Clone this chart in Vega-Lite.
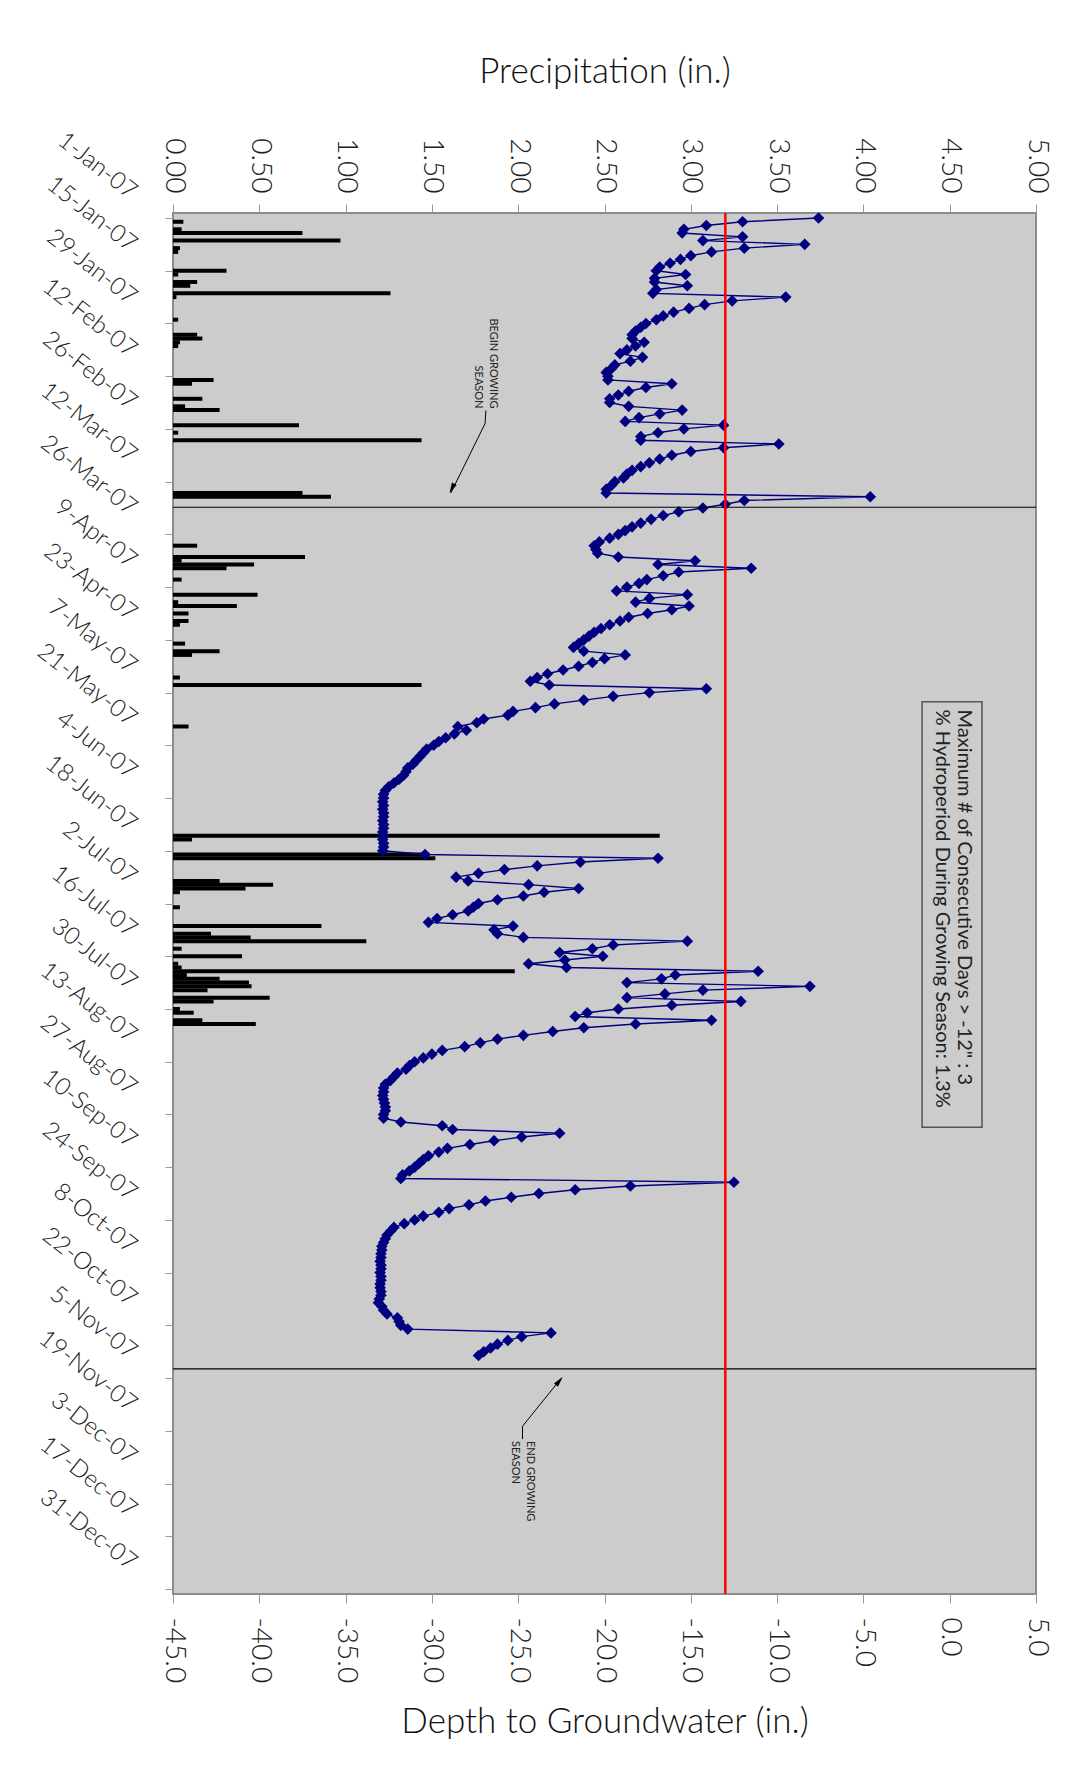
{
  "$schema": "https://vega.github.io/schema/vega-lite/v6.json",
  "autosize": {"type": "none"},
  "padding": {"left": 173, "top": 213, "right": 52, "bottom": 183},
  "width": 863,
  "height": 1381,
  "background": "#FFFFFF",
  "config": {
    "locale": {"number": {"decimal": ".", "thousands": ",", "grouping": [3], "currency": ["$", ""], "minus": "-"}},
    "view": {"fill": "#CCCCCC", "stroke": "#8C8C8C", "strokeWidth": 2},
    "axis": {"domain": false, "grid": false, "tickColor": "#9A9A9A", "labelFont": "Lato", "labelFontWeight": 300, "labelColor": "#222222", "titleFont": "Lato", "titleFontWeight": 300, "titleColor": "#111111", "labelFlush": false, "labelOverlap": false, "labelBound": false}
  },
  "datasets": {
    "precipitation": [
      {"date": "2007-01-02", "precip": 0.06}, {"date": "2007-01-04", "precip": 0.05}, {"date": "2007-01-05", "precip": 0.75}, {"date": "2007-01-07", "precip": 0.97},
      {"date": "2007-01-09", "precip": 0.04}, {"date": "2007-01-10", "precip": 0.03}, {"date": "2007-01-15", "precip": 0.31}, {"date": "2007-01-16", "precip": 0.03},
      {"date": "2007-01-18", "precip": 0.14}, {"date": "2007-01-19", "precip": 0.10}, {"date": "2007-01-21", "precip": 1.26}, {"date": "2007-01-22", "precip": 0.02},
      {"date": "2007-01-28", "precip": 0.03}, {"date": "2007-02-01", "precip": 0.14}, {"date": "2007-02-02", "precip": 0.17}, {"date": "2007-02-03", "precip": 0.04},
      {"date": "2007-02-04", "precip": 0.03}, {"date": "2007-02-13", "precip": 0.235}, {"date": "2007-02-14", "precip": 0.11}, {"date": "2007-02-18", "precip": 0.17},
      {"date": "2007-02-20", "precip": 0.07}, {"date": "2007-02-21", "precip": 0.27}, {"date": "2007-02-25", "precip": 0.73}, {"date": "2007-02-27", "precip": 0.03},
      {"date": "2007-03-01", "precip": 1.44}, {"date": "2007-03-15", "precip": 0.75}, {"date": "2007-03-16", "precip": 0.915}, {"date": "2007-03-29", "precip": 0.14},
      {"date": "2007-04-01", "precip": 0.765}, {"date": "2007-04-02", "precip": 0.05}, {"date": "2007-04-03", "precip": 0.47}, {"date": "2007-04-04", "precip": 0.31},
      {"date": "2007-04-07", "precip": 0.05}, {"date": "2007-04-11", "precip": 0.49}, {"date": "2007-04-13", "precip": 0.03}, {"date": "2007-04-14", "precip": 0.37},
      {"date": "2007-04-16", "precip": 0.09}, {"date": "2007-04-18", "precip": 0.09}, {"date": "2007-04-19", "precip": 0.04}, {"date": "2007-04-24", "precip": 0.07},
      {"date": "2007-04-26", "precip": 0.27}, {"date": "2007-04-27", "precip": 0.11}, {"date": "2007-05-03", "precip": 0.04}, {"date": "2007-05-05", "precip": 1.44},
      {"date": "2007-05-16", "precip": 0.09}, {"date": "2007-06-14", "precip": 2.82}, {"date": "2007-06-15", "precip": 0.11}, {"date": "2007-06-19", "precip": 1.45},
      {"date": "2007-06-20", "precip": 1.52}, {"date": "2007-06-26", "precip": 0.27}, {"date": "2007-06-27", "precip": 0.58}, {"date": "2007-06-28", "precip": 0.42},
      {"date": "2007-06-29", "precip": 0.04}, {"date": "2007-07-03", "precip": 0.04}, {"date": "2007-07-08", "precip": 0.86}, {"date": "2007-07-10", "precip": 0.22},
      {"date": "2007-07-11", "precip": 0.45}, {"date": "2007-07-12", "precip": 1.12}, {"date": "2007-07-14", "precip": 0.05}, {"date": "2007-07-16", "precip": 0.40},
      {"date": "2007-07-18", "precip": 0.03}, {"date": "2007-07-19", "precip": 0.05}, {"date": "2007-07-20", "precip": 1.98}, {"date": "2007-07-21", "precip": 0.08},
      {"date": "2007-07-22", "precip": 0.27}, {"date": "2007-07-23", "precip": 0.44}, {"date": "2007-07-24", "precip": 0.455}, {"date": "2007-07-25", "precip": 0.20},
      {"date": "2007-07-27", "precip": 0.56}, {"date": "2007-07-28", "precip": 0.235}, {"date": "2007-07-30", "precip": 0.04}, {"date": "2007-07-31", "precip": 0.12},
      {"date": "2007-08-02", "precip": 0.17}, {"date": "2007-08-03", "precip": 0.48}
    ],
    "groundwater": [
      {"date": "2007-01-01", "depth": -7.6}, {"date": "2007-01-02", "depth": -12.0}, {"date": "2007-01-03", "depth": -14.1}, {"date": "2007-01-04", "depth": -15.4},
      {"date": "2007-01-05", "depth": -15.5}, {"date": "2007-01-06", "depth": -12.0}, {"date": "2007-01-07", "depth": -14.3}, {"date": "2007-01-08", "depth": -8.4},
      {"date": "2007-01-09", "depth": -11.9}, {"date": "2007-01-10", "depth": -13.8}, {"date": "2007-01-11", "depth": -15.0}, {"date": "2007-01-12", "depth": -15.6},
      {"date": "2007-01-13", "depth": -16.2}, {"date": "2007-01-14", "depth": -16.8}, {"date": "2007-01-15", "depth": -17.0}, {"date": "2007-01-16", "depth": -15.3},
      {"date": "2007-01-17", "depth": -17.1}, {"date": "2007-01-18", "depth": -17.1}, {"date": "2007-01-19", "depth": -15.2}, {"date": "2007-01-20", "depth": -17.0},
      {"date": "2007-01-21", "depth": -17.2}, {"date": "2007-01-22", "depth": -9.5}, {"date": "2007-01-23", "depth": -12.6}, {"date": "2007-01-24", "depth": -14.2},
      {"date": "2007-01-25", "depth": -15.1}, {"date": "2007-01-26", "depth": -16.0}, {"date": "2007-01-27", "depth": -16.6}, {"date": "2007-01-28", "depth": -17.0},
      {"date": "2007-01-29", "depth": -17.6}, {"date": "2007-01-30", "depth": -17.9}, {"date": "2007-01-31", "depth": -18.2},
      {"date": "2007-02-01", "depth": -18.4}, {"date": "2007-02-02", "depth": -18.4}, {"date": "2007-02-03", "depth": -17.7}, {"date": "2007-02-04", "depth": -18.2},
      {"date": "2007-02-05", "depth": -18.7}, {"date": "2007-02-06", "depth": -19.1}, {"date": "2007-02-07", "depth": -17.8}, {"date": "2007-02-08", "depth": -18.5},
      {"date": "2007-02-09", "depth": -19.4}, {"date": "2007-02-10", "depth": -19.6}, {"date": "2007-02-11", "depth": -19.9}, {"date": "2007-02-12", "depth": -19.8},
      {"date": "2007-02-13", "depth": -19.8}, {"date": "2007-02-14", "depth": -16.1}, {"date": "2007-02-15", "depth": -17.6}, {"date": "2007-02-16", "depth": -18.6},
      {"date": "2007-02-17", "depth": -19.2}, {"date": "2007-02-18", "depth": -19.7}, {"date": "2007-02-19", "depth": -19.7}, {"date": "2007-02-20", "depth": -18.6},
      {"date": "2007-02-21", "depth": -15.5}, {"date": "2007-02-22", "depth": -16.8}, {"date": "2007-02-23", "depth": -18.0}, {"date": "2007-02-24", "depth": -18.8},
      {"date": "2007-02-25", "depth": -13.1}, {"date": "2007-02-26", "depth": -15.4}, {"date": "2007-02-27", "depth": -16.9}, {"date": "2007-02-28", "depth": -17.9},
      {"date": "2007-03-01", "depth": -17.9}, {"date": "2007-03-02", "depth": -9.9}, {"date": "2007-03-03", "depth": -13.1}, {"date": "2007-03-04", "depth": -15.0},
      {"date": "2007-03-05", "depth": -16.1}, {"date": "2007-03-06", "depth": -16.8}, {"date": "2007-03-07", "depth": -17.4}, {"date": "2007-03-08", "depth": -17.9},
      {"date": "2007-03-09", "depth": -18.4}, {"date": "2007-03-10", "depth": -18.7}, {"date": "2007-03-11", "depth": -18.9}, {"date": "2007-03-12", "depth": -19.4},
      {"date": "2007-03-13", "depth": -19.6}, {"date": "2007-03-14", "depth": -19.9}, {"date": "2007-03-15", "depth": -19.9}, {"date": "2007-03-16", "depth": -4.6},
      {"date": "2007-03-17", "depth": -11.9}, {"date": "2007-03-18", "depth": -13.0}, {"date": "2007-03-19", "depth": -14.3}, {"date": "2007-03-20", "depth": -15.7},
      {"date": "2007-03-21", "depth": -16.6}, {"date": "2007-03-22", "depth": -17.3}, {"date": "2007-03-23", "depth": -17.9}, {"date": "2007-03-24", "depth": -18.4},
      {"date": "2007-03-25", "depth": -18.8}, {"date": "2007-03-26", "depth": -19.2}, {"date": "2007-03-27", "depth": -19.7}, {"date": "2007-03-28", "depth": -20.3},
      {"date": "2007-03-29", "depth": -20.6}, {"date": "2007-03-30", "depth": -20.5}, {"date": "2007-03-31", "depth": -20.4},
      {"date": "2007-04-01", "depth": -19.2}, {"date": "2007-04-02", "depth": -14.75}, {"date": "2007-04-03", "depth": -16.9}, {"date": "2007-04-04", "depth": -11.5},
      {"date": "2007-04-05", "depth": -15.7}, {"date": "2007-04-06", "depth": -16.6}, {"date": "2007-04-07", "depth": -17.55}, {"date": "2007-04-08", "depth": -18.0},
      {"date": "2007-04-09", "depth": -18.7}, {"date": "2007-04-10", "depth": -19.3}, {"date": "2007-04-11", "depth": -15.2}, {"date": "2007-04-12", "depth": -17.4},
      {"date": "2007-04-13", "depth": -18.2}, {"date": "2007-04-14", "depth": -15.1}, {"date": "2007-04-15", "depth": -16.1}, {"date": "2007-04-16", "depth": -17.5},
      {"date": "2007-04-17", "depth": -18.6}, {"date": "2007-04-18", "depth": -19.1}, {"date": "2007-04-19", "depth": -19.7}, {"date": "2007-04-20", "depth": -20.2},
      {"date": "2007-04-21", "depth": -20.6}, {"date": "2007-04-22", "depth": -20.9}, {"date": "2007-04-23", "depth": -21.2}, {"date": "2007-04-24", "depth": -21.5},
      {"date": "2007-04-25", "depth": -21.8}, {"date": "2007-04-26", "depth": -21.2}, {"date": "2007-04-27", "depth": -18.8}, {"date": "2007-04-28", "depth": -20.0},
      {"date": "2007-04-29", "depth": -20.7}, {"date": "2007-04-30", "depth": -21.5},
      {"date": "2007-05-01", "depth": -22.4}, {"date": "2007-05-02", "depth": -23.3}, {"date": "2007-05-03", "depth": -23.9}, {"date": "2007-05-04", "depth": -24.3},
      {"date": "2007-05-05", "depth": -23.2}, {"date": "2007-05-06", "depth": -14.1}, {"date": "2007-05-07", "depth": -17.4}, {"date": "2007-05-08", "depth": -19.5},
      {"date": "2007-05-09", "depth": -21.2}, {"date": "2007-05-10", "depth": -22.9}, {"date": "2007-05-11", "depth": -24.0}, {"date": "2007-05-12", "depth": -25.3},
      {"date": "2007-05-13", "depth": -25.6}, {"date": "2007-05-14", "depth": -27.0}, {"date": "2007-05-15", "depth": -27.4}, {"date": "2007-05-16", "depth": -28.5},
      {"date": "2007-05-17", "depth": -28.0}, {"date": "2007-05-18", "depth": -28.7}, {"date": "2007-05-19", "depth": -29.2}, {"date": "2007-05-20", "depth": -29.6},
      {"date": "2007-05-21", "depth": -29.9}, {"date": "2007-05-22", "depth": -30.3}, {"date": "2007-05-23", "depth": -30.5}, {"date": "2007-05-24", "depth": -30.7},
      {"date": "2007-05-25", "depth": -30.9}, {"date": "2007-05-26", "depth": -31.1}, {"date": "2007-05-27", "depth": -31.4}, {"date": "2007-05-28", "depth": -31.5},
      {"date": "2007-05-29", "depth": -31.65}, {"date": "2007-05-30", "depth": -31.9}, {"date": "2007-05-31", "depth": -32.2},
      {"date": "2007-06-01", "depth": -32.5}, {"date": "2007-06-02", "depth": -32.7}, {"date": "2007-06-03", "depth": -32.8}, {"date": "2007-06-04", "depth": -32.8},
      {"date": "2007-06-05", "depth": -32.85}, {"date": "2007-06-06", "depth": -32.8}, {"date": "2007-06-07", "depth": -32.85}, {"date": "2007-06-08", "depth": -32.8},
      {"date": "2007-06-09", "depth": -32.8}, {"date": "2007-06-10", "depth": -32.85}, {"date": "2007-06-11", "depth": -32.8}, {"date": "2007-06-12", "depth": -32.8},
      {"date": "2007-06-13", "depth": -32.85}, {"date": "2007-06-14", "depth": -32.8}, {"date": "2007-06-15", "depth": -32.85}, {"date": "2007-06-16", "depth": -32.8},
      {"date": "2007-06-17", "depth": -32.8}, {"date": "2007-06-18", "depth": -32.85}, {"date": "2007-06-19", "depth": -30.4}, {"date": "2007-06-20", "depth": -16.9},
      {"date": "2007-06-21", "depth": -21.4}, {"date": "2007-06-22", "depth": -23.9}, {"date": "2007-06-23", "depth": -25.8}, {"date": "2007-06-24", "depth": -27.3},
      {"date": "2007-06-25", "depth": -28.6}, {"date": "2007-06-26", "depth": -27.9}, {"date": "2007-06-27", "depth": -24.4}, {"date": "2007-06-28", "depth": -21.5},
      {"date": "2007-06-29", "depth": -23.5}, {"date": "2007-06-30", "depth": -24.7},
      {"date": "2007-07-01", "depth": -26.2}, {"date": "2007-07-02", "depth": -27.3}, {"date": "2007-07-03", "depth": -27.6}, {"date": "2007-07-04", "depth": -27.9},
      {"date": "2007-07-05", "depth": -28.8}, {"date": "2007-07-06", "depth": -29.7}, {"date": "2007-07-07", "depth": -30.2}, {"date": "2007-07-08", "depth": -25.3},
      {"date": "2007-07-09", "depth": -26.4}, {"date": "2007-07-10", "depth": -26.2}, {"date": "2007-07-11", "depth": -24.7}, {"date": "2007-07-12", "depth": -15.2},
      {"date": "2007-07-13", "depth": -19.5}, {"date": "2007-07-14", "depth": -20.7}, {"date": "2007-07-15", "depth": -22.6}, {"date": "2007-07-16", "depth": -20.1},
      {"date": "2007-07-17", "depth": -22.3}, {"date": "2007-07-18", "depth": -24.4}, {"date": "2007-07-19", "depth": -22.2}, {"date": "2007-07-20", "depth": -11.1},
      {"date": "2007-07-21", "depth": -15.9}, {"date": "2007-07-22", "depth": -16.7}, {"date": "2007-07-23", "depth": -18.7}, {"date": "2007-07-24", "depth": -8.1},
      {"date": "2007-07-25", "depth": -14.3}, {"date": "2007-07-26", "depth": -16.5}, {"date": "2007-07-27", "depth": -18.7}, {"date": "2007-07-28", "depth": -12.1},
      {"date": "2007-07-29", "depth": -16.1}, {"date": "2007-07-30", "depth": -19.2}, {"date": "2007-07-31", "depth": -21.0},
      {"date": "2007-08-01", "depth": -21.7}, {"date": "2007-08-02", "depth": -13.8}, {"date": "2007-08-03", "depth": -18.2}, {"date": "2007-08-04", "depth": -21.2},
      {"date": "2007-08-05", "depth": -23.0}, {"date": "2007-08-06", "depth": -24.7}, {"date": "2007-08-07", "depth": -26.2}, {"date": "2007-08-08", "depth": -27.2},
      {"date": "2007-08-09", "depth": -28.1}, {"date": "2007-08-10", "depth": -29.4}, {"date": "2007-08-11", "depth": -30.0}, {"date": "2007-08-12", "depth": -30.5},
      {"date": "2007-08-13", "depth": -31.0}, {"date": "2007-08-14", "depth": -31.3}, {"date": "2007-08-15", "depth": -31.5}, {"date": "2007-08-16", "depth": -32.0},
      {"date": "2007-08-17", "depth": -32.2}, {"date": "2007-08-18", "depth": -32.4}, {"date": "2007-08-19", "depth": -32.7}, {"date": "2007-08-20", "depth": -32.8},
      {"date": "2007-08-21", "depth": -32.8}, {"date": "2007-08-22", "depth": -32.85}, {"date": "2007-08-23", "depth": -32.8}, {"date": "2007-08-24", "depth": -32.75},
      {"date": "2007-08-25", "depth": -32.7}, {"date": "2007-08-26", "depth": -32.7}, {"date": "2007-08-27", "depth": -32.8}, {"date": "2007-08-28", "depth": -32.8},
      {"date": "2007-08-29", "depth": -31.8}, {"date": "2007-08-30", "depth": -29.4}, {"date": "2007-08-31", "depth": -28.8},
      {"date": "2007-09-01", "depth": -22.6}, {"date": "2007-09-02", "depth": -24.8}, {"date": "2007-09-03", "depth": -26.4}, {"date": "2007-09-04", "depth": -27.8},
      {"date": "2007-09-05", "depth": -29.1}, {"date": "2007-09-06", "depth": -29.6}, {"date": "2007-09-07", "depth": -30.2}, {"date": "2007-09-08", "depth": -30.5},
      {"date": "2007-09-09", "depth": -30.75}, {"date": "2007-09-10", "depth": -31.0}, {"date": "2007-09-11", "depth": -31.3}, {"date": "2007-09-12", "depth": -31.7},
      {"date": "2007-09-13", "depth": -31.8}, {"date": "2007-09-14", "depth": -12.5}, {"date": "2007-09-15", "depth": -18.5}, {"date": "2007-09-16", "depth": -21.7},
      {"date": "2007-09-17", "depth": -23.8}, {"date": "2007-09-18", "depth": -25.4}, {"date": "2007-09-19", "depth": -26.9}, {"date": "2007-09-20", "depth": -27.85},
      {"date": "2007-09-21", "depth": -29.0}, {"date": "2007-09-22", "depth": -29.6}, {"date": "2007-09-23", "depth": -30.5}, {"date": "2007-09-24", "depth": -31.0},
      {"date": "2007-09-25", "depth": -31.6}, {"date": "2007-09-26", "depth": -32.2}, {"date": "2007-09-27", "depth": -32.4}, {"date": "2007-09-28", "depth": -32.6},
      {"date": "2007-09-29", "depth": -32.7}, {"date": "2007-09-30", "depth": -32.8},
      {"date": "2007-10-01", "depth": -32.9}, {"date": "2007-10-02", "depth": -32.9}, {"date": "2007-10-03", "depth": -32.95}, {"date": "2007-10-04", "depth": -32.95},
      {"date": "2007-10-05", "depth": -33.0}, {"date": "2007-10-06", "depth": -32.95}, {"date": "2007-10-07", "depth": -32.95}, {"date": "2007-10-08", "depth": -33.0},
      {"date": "2007-10-09", "depth": -32.95}, {"date": "2007-10-10", "depth": -32.95}, {"date": "2007-10-11", "depth": -33.0}, {"date": "2007-10-12", "depth": -33.0},
      {"date": "2007-10-13", "depth": -32.95}, {"date": "2007-10-14", "depth": -32.95}, {"date": "2007-10-15", "depth": -33.05}, {"date": "2007-10-16", "depth": -33.1},
      {"date": "2007-10-17", "depth": -32.9}, {"date": "2007-10-18", "depth": -32.8}, {"date": "2007-10-19", "depth": -32.6}, {"date": "2007-10-20", "depth": -32.0},
      {"date": "2007-10-21", "depth": -31.9}, {"date": "2007-10-22", "depth": -31.8}, {"date": "2007-10-23", "depth": -31.4}, {"date": "2007-10-24", "depth": -23.1},
      {"date": "2007-10-25", "depth": -24.8}, {"date": "2007-10-26", "depth": -25.6}, {"date": "2007-10-27", "depth": -26.2}, {"date": "2007-10-28", "depth": -26.6},
      {"date": "2007-10-29", "depth": -27.0}, {"date": "2007-10-30", "depth": -27.3}
    ],
    "season": [{"date": "2007-03-18T19:00:00Z", "event": "begin"}, {"date": "2007-11-02T14:00:00Z", "event": "end"}],
    "criterion": [{"depth": -13}],
    "box": [{"x1": -1.6, "x2": 1.87, "d1": "2007-05-09T10:00:00Z", "d2": "2007-08-30T10:00:00Z"}],
    "boxtext": [
      {"depth": 0.83, "date": "2007-05-11T12:00:00Z", "label": "Maximum # of Consecutive Days > -12\" : 3"},
      {"depth": -0.45, "date": "2007-05-11T12:00:00Z", "label": "% Hydroperiod During Growing Season: 1.3%"}
    ],
    "begintext": [
      {"depth": -26.48, "date": "2007-02-20T14:00:00Z", "label": "BEGIN GROWING"},
      {"depth": -27.33, "date": "2007-02-20T14:00:00Z", "label": "SEASON"}
    ],
    "endtext": [
      {"depth": -24.29, "date": "2007-11-21T17:00:00Z", "label": "END GROWING"},
      {"depth": -25.19, "date": "2007-11-21T17:00:00Z", "label": "SEASON"}
    ],
    "leader": [
      {"grp": "begin", "seq": 1, "depth": -26.87, "date": "2007-02-21T02:00:00Z"},
      {"grp": "begin", "seq": 2, "depth": -26.92, "date": "2007-02-24T14:00:00Z"},
      {"grp": "begin", "seq": 3, "depth": -28.9, "date": "2007-03-15T00:00:00Z"},
      {"grp": "end", "seq": 1, "depth": -24.75, "date": "2007-11-21T05:00:00Z"},
      {"grp": "end", "seq": 2, "depth": -24.75, "date": "2007-11-17T19:00:00Z"},
      {"grp": "end", "seq": 3, "depth": -22.5, "date": "2007-11-05T00:00:00Z"}
    ],
    "arrowBegin": [{"depth": -28.84, "date": "2007-03-13T19:00:00Z"}],
    "arrowEnd": [{"depth": -22.62, "date": "2007-11-05T19:00:00Z"}]
  },
  "resolve": {"scale": {"x": "independent"}, "axis": {"x": "independent"}},
  "layer": [
    {
      "data": {"name": "precipitation"},
      "mark": {"type": "bar", "orient": "horizontal", "color": "#000000", "size": 4},
      "encoding": {
        "y": {
          "field": "date", "type": "temporal",
          "scale": {"type": "utc", "domain": [{"year": 2007, "month": 1, "date": 1, "utc": true}, {"year": 2007, "month": 12, "date": 31, "utc": true}], "nice": false, "reverse": true},
          "axis": {
            "orient": "left", "title": null,
            "values": [1167609600000, 1168214400000, 1168819200000, 1169424000000, 1170028800000, 1170633600000, 1171238400000, 1171843200000, 1172448000000, 1173052800000, 1173657600000, 1174262400000, 1174867200000, 1175472000000, 1176076800000, 1176681600000, 1177286400000, 1177891200000, 1178496000000, 1179100800000, 1179705600000, 1180310400000, 1180915200000, 1181520000000, 1182124800000, 1182729600000, 1183334400000, 1183939200000, 1184544000000, 1185148800000, 1185753600000, 1186358400000, 1186963200000, 1187568000000, 1188172800000, 1188777600000, 1189382400000, 1189987200000, 1190592000000, 1191196800000, 1191801600000, 1192406400000, 1193011200000, 1193616000000, 1194220800000, 1194825600000, 1195430400000, 1196035200000, 1196640000000, 1197244800000, 1197849600000, 1198454400000, 1199059200000],
            "labelExpr": "((+datum.value) - 1167609600000) % 1209600000 == 0 ? utcFormat(+datum.value, '%-d-%b-%y') : ''",
            "labelAngle": 38, "labelAlign": "right", "labelBaseline": "middle",
            "labelFontSize": 24, "labelPadding": 32, "labelOffset": -24, "tickSize": 8
          }
        },
        "x": {
          "field": "precip", "type": "quantitative",
          "scale": {"domain": [0, 5], "nice": false, "zero": true},
          "axis": {
            "orient": "top", "values": [0, 0.5, 1, 1.5, 2, 2.5, 3, 3.5, 4, 4.5, 5], "format": ".2f",
            "labelAngle": 90, "labelAlign": "right", "labelBaseline": "middle", "labelFontSize": 28, "labelPadding": 11, "tickSize": 9,
            "title": "Precipitation (in.)", "titleFontSize": 35, "titlePadding": 48, "titleAngle": 0
          }
        }
      }
    },
    {
      "layer": [
        {
          "data": {"name": "groundwater"},
          "mark": {"type": "line", "color": "#000080", "strokeWidth": 1.4, "orient": "vertical"},
          "encoding": {
            "y": {"field": "date", "type": "temporal", "scale": {"type": "utc", "domain": [{"year": 2007, "month": 1, "date": 1, "utc": true}, {"year": 2007, "month": 12, "date": 31, "utc": true}], "nice": false, "reverse": true}},
            "x": {
              "field": "depth", "type": "quantitative",
              "scale": {"domain": [-45, 5], "nice": false, "zero": false},
              "axis": {
                "orient": "bottom", "values": [-45, -40, -35, -30, -25, -20, -15, -10, -5, 0, 5], "format": ".1f",
                "labelAngle": 90, "labelAlign": "left", "labelBaseline": "middle", "labelFontSize": 28, "labelPadding": 14, "tickSize": 9,
                "title": "Depth to Groundwater (in.)", "titleFontSize": 35, "titlePadding": 22, "titleAngle": 0
              }
            },
            "order": {"field": "date", "type": "temporal"}
          }
        },
        {
          "data": {"name": "groundwater"},
          "mark": {"type": "point", "shape": "diamond", "filled": true, "size": 135, "color": "#000080", "opacity": 1},
          "encoding": {
            "y": {"field": "date", "type": "temporal"},
            "x": {"field": "depth", "type": "quantitative"}
          }
        },
        {
          "data": {"name": "season"},
          "mark": {"type": "rule", "color": "#000000", "strokeWidth": 1.2},
          "encoding": {
            "y": {"field": "date", "type": "temporal"}
          }
        },
        {
          "data": {"name": "criterion"},
          "mark": {"type": "rule", "color": "#FF0000", "strokeWidth": 2.5},
          "encoding": {
            "x": {"field": "depth", "type": "quantitative"}
          }
        },
        {
          "data": {"name": "box"},
          "mark": {"type": "rect", "fill": "transparent", "stroke": "#555555", "strokeWidth": 1.5},
          "encoding": {
            "x": {"field": "x1", "type": "quantitative"},
            "x2": {"field": "x2"},
            "y": {"field": "d1", "type": "temporal"},
            "y2": {"field": "d2"}
          }
        },
        {
          "data": {"name": "boxtext"},
          "mark": {"type": "text", "angle": 90, "align": "left", "baseline": "middle", "font": "Lato", "fontSize": 20, "color": "#222222"},
          "encoding": {
            "x": {"field": "depth", "type": "quantitative"},
            "y": {"field": "date", "type": "temporal"},
            "text": {"field": "label"}
          }
        },
        {
          "data": {"name": "begintext"},
          "mark": {"type": "text", "angle": 90, "align": "right", "baseline": "middle", "font": "Lato", "fontSize": 11, "color": "#222222"},
          "encoding": {
            "x": {"field": "depth", "type": "quantitative"},
            "y": {"field": "date", "type": "temporal"},
            "text": {"field": "label"}
          }
        },
        {
          "data": {"name": "endtext"},
          "mark": {"type": "text", "angle": 90, "align": "left", "baseline": "middle", "font": "Lato", "fontSize": 11, "color": "#222222"},
          "encoding": {
            "x": {"field": "depth", "type": "quantitative"},
            "y": {"field": "date", "type": "temporal"},
            "text": {"field": "label"}
          }
        },
        {
          "data": {"name": "leader"},
          "mark": {"type": "line", "color": "#000000", "strokeWidth": 1},
          "encoding": {
            "x": {"field": "depth", "type": "quantitative"},
            "y": {"field": "date", "type": "temporal"},
            "detail": {"field": "grp"},
            "order": {"field": "seq", "type": "quantitative"}
          }
        },
        {
          "data": {"name": "arrowBegin"},
          "mark": {"type": "point", "shape": "M0,-1L0.5,1L-0.5,1Z", "filled": true, "size": 110, "color": "#000000", "opacity": 1, "angle": 207},
          "encoding": {
            "x": {"field": "depth", "type": "quantitative"},
            "y": {"field": "date", "type": "temporal"}
          }
        },
        {
          "data": {"name": "arrowEnd"},
          "mark": {"type": "point", "shape": "M0,-1L0.5,1L-0.5,1Z", "filled": true, "size": 110, "color": "#000000", "opacity": 1, "angle": 39},
          "encoding": {
            "x": {"field": "depth", "type": "quantitative"},
            "y": {"field": "date", "type": "temporal"}
          }
        }
      ]
    }
  ]
}
